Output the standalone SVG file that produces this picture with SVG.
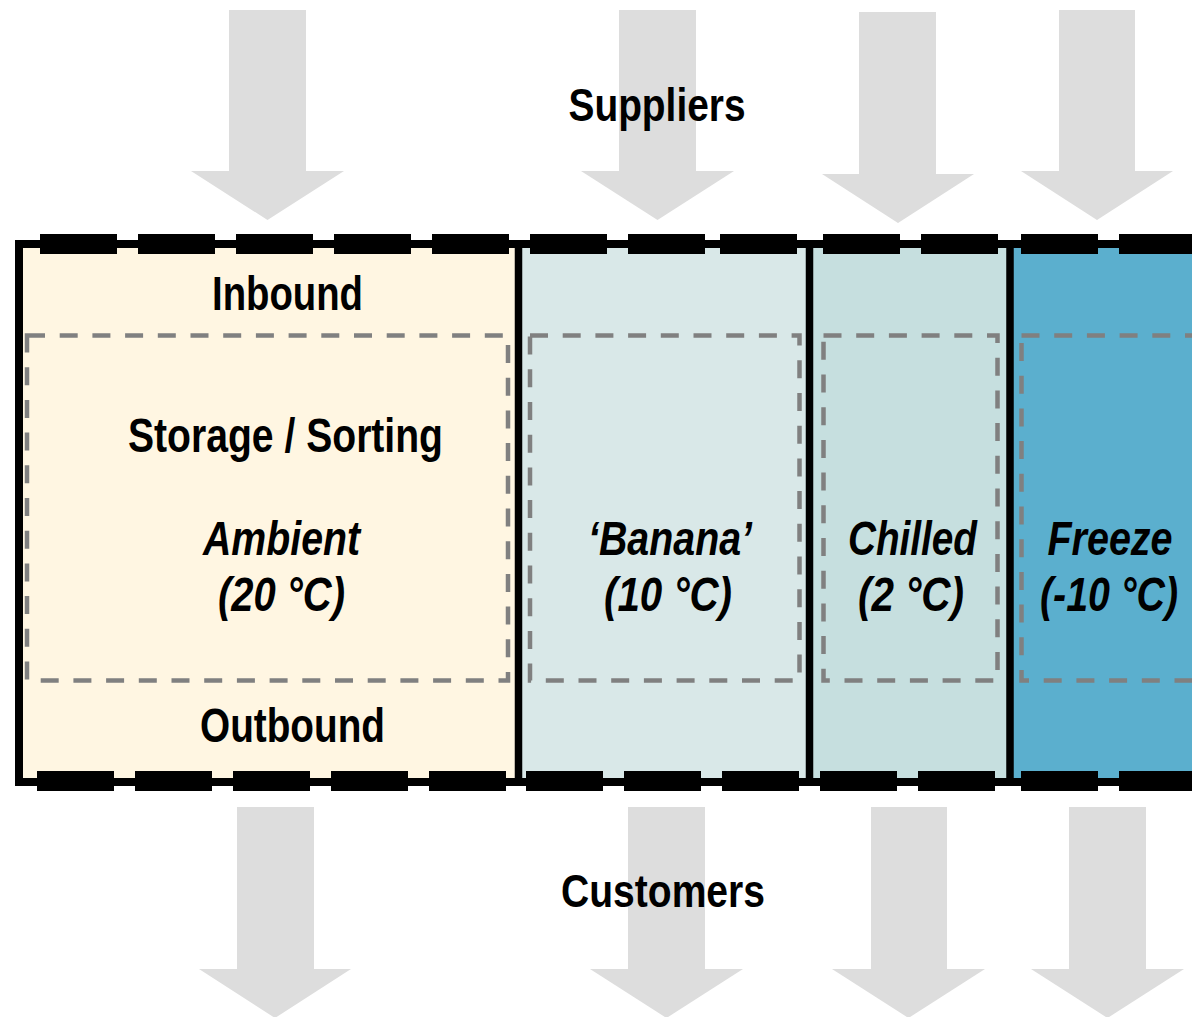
<svg xmlns="http://www.w3.org/2000/svg" width="1192" height="1017" viewBox="0 0 1192 1017">
<style>
.arrow{fill:#DDDDDD}
.blk{fill:#000}
.dash{fill:none;stroke:#808080;stroke-width:4.5;stroke-dasharray:18 14.7}
.t{font-family:"Liberation Sans Narrow","Liberation Sans",Arial,sans-serif;font-weight:bold;fill:#000;text-anchor:middle}
.big{font-size:46px}
.lbl{font-size:48px}
.it{font-size:48px;font-style:italic}
</style>
<rect width="1192" height="1017" fill="#FFFFFF"/>
<g id="connectors">
  <polygon class="arrow" points="229,10 306,10 306,171 344,171 267.5,220 191,171 229,171"/>
  <polygon class="arrow" points="619,10 696,10 696,171 734,171 657.5,220 581,171 619,171"/>
  <polygon class="arrow" points="859,12 936,12 936,174 974,174 898,223 822,174 859,174"/>
  <polygon class="arrow" points="1059,10 1135,10 1135,171 1173,171 1097,220 1021,171 1059,171"/>
  <polygon class="arrow" points="237,807 314,807 314,969 351,969 275,1018 199,969 237,969"/>
  <polygon class="arrow" points="628,807 705,807 705,969 743,969 666.5,1018 590,969 628,969"/>
  <polygon class="arrow" points="871,807 947,807 947,969 985,969 908.5,1018 832,969 871,969"/>
  <polygon class="arrow" points="1069,807 1146,807 1146,969 1184,969 1107.5,1018 1031,969 1069,969"/>
</g>
<g id="suppliers"><text class="t big" x="657" y="121" textLength="177" lengthAdjust="spacingAndGlyphs">Suppliers</text></g>
<g id="customers"><text class="t big" x="663" y="907" textLength="204" lengthAdjust="spacingAndGlyphs">Customers</text></g>
<g id="zone-ambient">
  <rect x="19" y="244" width="500" height="538" fill="#FFF6E2"/>
  <rect class="dash" x="27" y="335.5" width="481" height="345"/>
  <text class="t lbl" x="287.5" y="310" textLength="151" lengthAdjust="spacingAndGlyphs">Inbound</text>
  <text class="t lbl" x="285.5" y="452" textLength="315" lengthAdjust="spacingAndGlyphs">Storage / Sorting</text>
  <text class="t it" x="281.5" y="555" textLength="157" lengthAdjust="spacingAndGlyphs">Ambient</text>
  <text class="t it" x="281.5" y="611" textLength="127" lengthAdjust="spacingAndGlyphs">(20 °C)</text>
  <text class="t lbl" x="292.5" y="742" textLength="185" lengthAdjust="spacingAndGlyphs">Outbound</text>
</g>
<g id="zone-banana">
  <rect x="519" y="244" width="291" height="538" fill="#D9E8E8"/>
  <rect class="dash" x="530" y="335.5" width="269.5" height="345"/>
  <text class="t it" x="670" y="555" textLength="164" lengthAdjust="spacingAndGlyphs">‘Banana’</text>
  <text class="t it" x="668" y="611" textLength="128" lengthAdjust="spacingAndGlyphs">(10 °C)</text>
</g>
<g id="zone-chilled">
  <rect x="810" y="244" width="200" height="538" fill="#C6DFDF"/>
  <rect class="dash" x="823.5" y="335.5" width="174" height="345"/>
  <text class="t it" x="912.5" y="555" textLength="129" lengthAdjust="spacingAndGlyphs">Chilled</text>
  <text class="t it" x="911" y="611" textLength="106" lengthAdjust="spacingAndGlyphs">(2 °C)</text>
</g>
<g id="zone-freeze">
  <rect x="1010" y="244" width="200" height="538" fill="#5BAFCE"/>
  <rect class="dash" x="1021.5" y="335.5" width="240" height="345"/>
  <text class="t it" x="1110" y="555" textLength="125" lengthAdjust="spacingAndGlyphs">Freeze</text>
  <text class="t it" x="1109" y="611" textLength="138" lengthAdjust="spacingAndGlyphs">(-10 °C)</text>
</g>
<g id="walls" fill="none" stroke="#000">
  <path d="M1200,244 H19 V782 H1200" stroke-width="8"/>
  <path d="M518.5,244 V782 M809.5,244 V782 M1010,244 V782" stroke-width="7.5"/>
</g>
<g id="doors" class="blk">
  <rect x="40" y="234" width="77" height="20"/>
  <rect x="138" y="234" width="77" height="20"/>
  <rect x="236" y="234" width="77" height="20"/>
  <rect x="334" y="234" width="77" height="20"/>
  <rect x="432" y="234" width="77" height="20"/>
  <rect x="530" y="234" width="77" height="20"/>
  <rect x="628" y="234" width="77" height="20"/>
  <rect x="720" y="234" width="77" height="20"/>
  <rect x="823" y="234" width="77" height="20"/>
  <rect x="921" y="234" width="77" height="20"/>
  <rect x="1021" y="234" width="77" height="20"/>
  <rect x="1119" y="234" width="77" height="20"/>
  <rect x="37" y="771" width="77" height="20"/>
  <rect x="135" y="771" width="77" height="20"/>
  <rect x="233" y="771" width="77" height="20"/>
  <rect x="331" y="771" width="77" height="20"/>
  <rect x="429" y="771" width="77" height="20"/>
  <rect x="526" y="771" width="77" height="20"/>
  <rect x="624" y="771" width="77" height="20"/>
  <rect x="722" y="771" width="77" height="20"/>
  <rect x="820" y="771" width="77" height="20"/>
  <rect x="918" y="771" width="77" height="20"/>
  <rect x="1021" y="771" width="77" height="20"/>
  <rect x="1119" y="771" width="77" height="20"/>
</g>
</svg>
